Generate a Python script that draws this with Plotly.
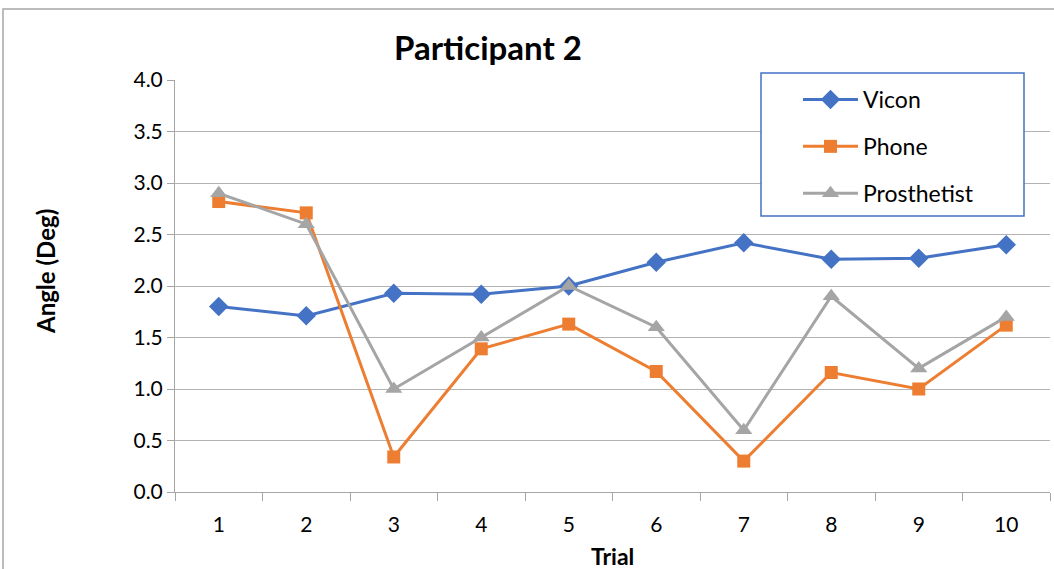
import plotly.graph_objects as go

trials = ["1", "2", "3", "4", "5", "6", "7", "8", "9", "10"]
vicon = [1.80, 1.71, 1.93, 1.92, 2.00, 2.23, 2.42, 2.26, 2.27, 2.40]
phone = [2.82, 2.71, 0.34, 1.39, 1.63, 1.17, 0.30, 1.16, 1.00, 1.62]
prosthetist = [2.90, 2.60, 1.00, 1.50, 2.00, 1.60, 0.60, 1.90, 1.20, 1.70]
y_ticks = [0.0, 0.5, 1.0, 1.5, 2.0, 2.5, 3.0, 3.5, 4.0]

W, H = 1054, 569
L, R, T, B = 175, 4, 80, 77
pw, ph = W - L - R, H - T - B

def px(x):
    return (x - L) / pw

def py(y):
    return (H - B - y) / ph

FONT = "Lato"

fig = go.Figure()
series = [
    ("Vicon", vicon, "#4472C4", "diamond", 15),
    ("Phone", phone, "#ED7D31", "square", 13),
    ("Prosthetist", prosthetist, "#A5A5A5", "triangle-up", 15),
]
for name, vals, color, sym, size in series:
    fig.add_trace(go.Scatter(
        x=trials, y=vals, name=name, mode="lines+markers",
        line=dict(color=color, width=3),
        marker=dict(symbol=sym, size=size, color=color),
        legendgroup=name,
    ))

fig.update_layout(
    width=W, height=H,
    margin=dict(l=L, r=R, t=T, b=B),
    paper_bgcolor="white", plot_bgcolor="white",
    font=dict(family=FONT, color="black", size=21),
    title=dict(text="<b>Participant 2</b>", x=(488) / W, xanchor="center",
               y=1 - 48 / H, yanchor="middle", font=dict(size=33, family=FONT)),
    showlegend=True,
    legend=dict(x=px(798), y=py(78), xanchor="left", yanchor="top",
                bgcolor="rgba(0,0,0,0)", borderwidth=0,
                font=dict(size=23, family=FONT), tracegroupgap=14,
                itemwidth=55),
    xaxis=dict(type="category", range=[-0.5, 9.5], tickson="boundaries", ticks="outside",
               ticklen=8, tickcolor="#a6a6a6", showline=True, linecolor="#a6a6a6",
               linewidth=1, showgrid=False, tickfont=dict(size=21),
               ticklabelstandoff=14),
    yaxis=dict(range=[0, 4], tickvals=y_ticks, ticktext=[f"{v:.1f}" for v in y_ticks],
               ticks="outside", ticklen=7, tickcolor="#a6a6a6",
               showline=True, linecolor="#a6a6a6", linewidth=1,
               showgrid=True, gridcolor="#b3b3b3", gridwidth=1, zeroline=False,
               tickfont=dict(size=21)),
)

# axis titles
fig.add_annotation(text="<b>Angle (Deg)</b>", xref="paper", yref="paper",
                   x=px(45), y=py(272), textangle=-90, showarrow=False,
                   font=dict(size=24), xanchor="center", yanchor="middle")
fig.add_annotation(text="<b>Trial</b>", xref="paper", yref="paper",
                   x=px(612), y=py(556), showarrow=False,
                   font=dict(size=23), xanchor="center", yanchor="middle")

# outer chart border
fig.add_shape(type="rect", xref="paper", yref="paper",
              x0=px(3), x1=px(1200), y0=py(700), y1=py(9),
              line=dict(color="#a6a6a6", width=1.5), fillcolor="rgba(0,0,0,0)", layer="below")
# legend box
fig.add_shape(type="rect", xref="paper", yref="paper",
              x0=px(761), x1=px(1024), y0=py(216), y1=py(73),
              line=dict(color="#4472C4", width=1.5), fillcolor="white", layer="above")

fig.write_html("out.html", config={"displayModeBar": False},
               post_script="document.body.style.margin='0';document.body.style.overflow='hidden';")
